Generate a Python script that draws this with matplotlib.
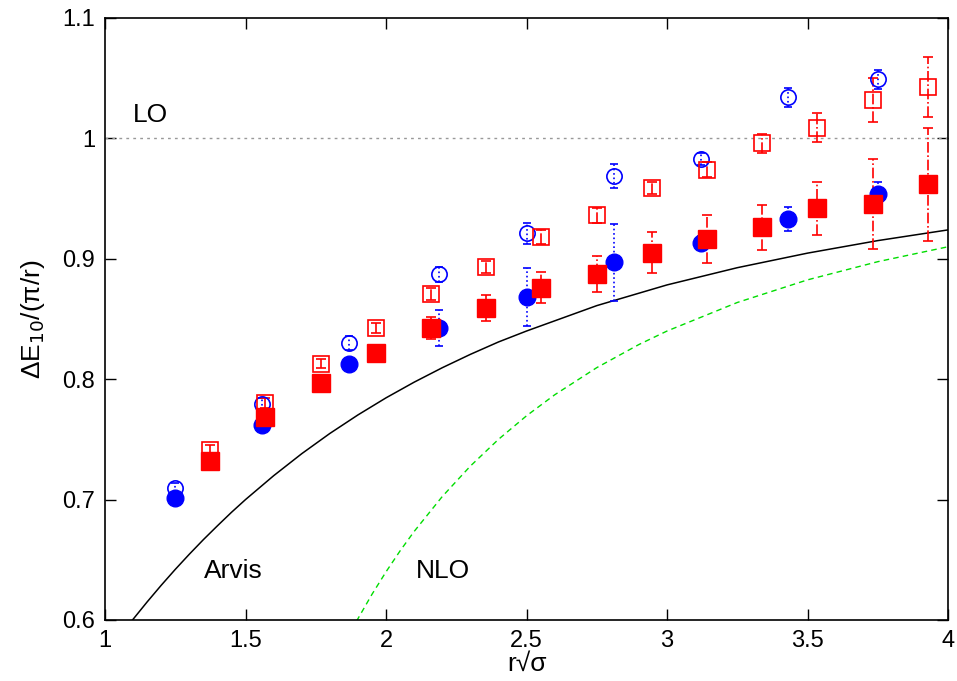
import numpy as np
import matplotlib.pyplot as plt

plt.rcParams['font.family'] = ['Liberation Sans', 'DejaVu Sans']

# blue circles (filled / open)
xb = [1.25, 1.56, 1.87, 2.19, 2.50, 2.81, 3.12, 3.43, 3.75]
yb_fill = [0.701, 0.762, 0.813, 0.8425, 0.868, 0.897, 0.913, 0.933, 0.954]
eb_fill = [0.004, 0.004, 0.005, 0.015, 0.024, 0.032, 0.006, 0.010, 0.010]
yb_open = [0.710, 0.779, 0.830, 0.887, 0.921, 0.969, 0.983, 1.034, 1.049]
eb_open = [0.004, 0.005, 0.006, 0.006, 0.009, 0.010, 0.005, 0.008, 0.008]

# red squares (filled / open)
xr = [1.374, 1.571, 1.767, 1.964, 2.160, 2.356, 2.553, 2.749, 2.945, 3.142,
      3.338, 3.534, 3.731, 3.927]
yr_fill = [0.732, 0.769, 0.797, 0.822, 0.8425, 0.859, 0.876, 0.887, 0.905,
           0.9165, 0.926, 0.942, 0.9455, 0.962]
er_fill = [0.006, 0.002, 0.002, 0.003, 0.009, 0.011, 0.013, 0.015, 0.017,
           0.020, 0.019, 0.022, 0.037, 0.047]
yr_open = [0.741, 0.780, 0.813, 0.8425, 0.871, 0.893, 0.918, 0.936, 0.959,
           0.974, 0.996, 1.009, 1.032, 1.043]
er_open = [0.004, 0.004, 0.004, 0.004, 0.005, 0.005, 0.006, 0.006, 0.005,
           0.006, 0.008, 0.012, 0.018, 0.025]

# theory curves
x_arvis = [1.09, 1.1, 1.15, 1.2, 1.25, 1.3, 1.35, 1.4, 1.45, 1.5, 1.6, 1.7,
           1.8, 1.9, 2.0, 2.1, 2.2, 2.3, 2.4, 2.5, 2.75, 3.0, 3.25, 3.5,
           3.75, 4.0]
y_arvis = [0.598, 0.6006, 0.6150, 0.6288, 0.6420, 0.6546, 0.6667, 0.6782,
           0.6894, 0.700, 0.7198, 0.7381, 0.7549, 0.7703, 0.7845, 0.7975,
           0.8095, 0.8206, 0.8309, 0.840, 0.8611, 0.8783, 0.8926, 0.9047,
           0.9151, 0.924]
x_nlo = [1.895, 1.95, 2.0, 2.05, 2.1, 2.2, 2.3, 2.4, 2.5, 2.6, 2.75, 2.9,
         3.0, 3.25, 3.5, 3.75, 4.0]
y_nlo = [0.599, 0.6213, 0.640, 0.6574, 0.6735, 0.7025, 0.7278, 0.750,
         0.7696, 0.7870, 0.8096, 0.8288, 0.840, 0.8637, 0.8825, 0.8976, 0.910]

fig = plt.figure(figsize=(9.57, 6.81), dpi=100)
ax = fig.add_axes([0.1097, 0.0896, 0.881, 0.884])

ax.axhline(1.0, color='#999999', ls=(0, (2, 3)), lw=1)
ax.plot(x_arvis, y_arvis, color='black', lw=1.1)
ax.plot(x_nlo, y_nlo, color='#00dd00', ls=(0, (4, 3)), lw=1)

# blue
e = ax.errorbar(xb, yb_open, yerr=eb_open, fmt='o', ms=11, mfc='none',
                mec='blue', mew=1.2, ecolor='blue', elinewidth=1.2,
                capsize=3, capthick=1.2)
e[2][0].set_linestyle(':')
e = ax.errorbar(xb, yb_fill, yerr=eb_fill, fmt='o', ms=12, color='blue',
                ecolor='blue', elinewidth=1.2, capsize=3, capthick=1.2)
e[2][0].set_linestyle(':')

# red
e = ax.errorbar(xr, yr_open, yerr=er_open, fmt='s', ms=12, mfc='none',
                mec='red', mew=1.2, ecolor='red', elinewidth=1.2,
                capsize=3.5, capthick=1.2)
e[2][0].set_linestyle('-.')
e = ax.errorbar(xr, yr_fill, yerr=er_fill, fmt='s', ms=13, color='red',
                ecolor='red', elinewidth=1.2, capsize=3.5, capthick=1.2)
e[2][0].set_linestyle('-.')

ax.text(1.10, 1.0136, 'LO', fontsize=19)
ax.text(1.352, 0.635, 'Arvis', fontsize=19)
ax.text(2.107, 0.635, 'NLO', fontsize=19)

ax.set_xlim(1, 4)
ax.set_ylim(0.6, 1.1)
ax.set_xticks([1, 1.5, 2, 2.5, 3, 3.5, 4])
ax.set_xticklabels(['1', '1.5', '2', '2.5', '3', '3.5', '4'])
ax.set_yticks([0.6, 0.7, 0.8, 0.9, 1.0, 1.1])
ax.set_yticklabels(['0.6', '0.7', '0.8', '0.9', '1', '1.1'])
ax.tick_params(direction='in', length=8, width=1, top=True, right=True,
               labelsize=17, pad=7)
for s in ax.spines.values():
    s.set_linewidth(1.2)
ax.set_xlabel('r\u221a\u03c3', fontsize=19, labelpad=0)
ax.set_ylabel('\u0394E$_{10}$/(\u03c0/r)', fontsize=19, labelpad=11)

fig.savefig('out.png', dpi=100)
